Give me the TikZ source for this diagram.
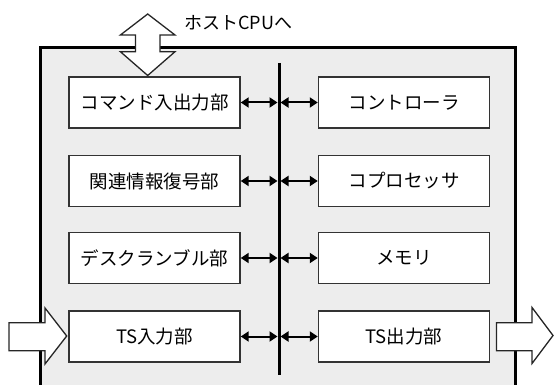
\documentclass[tikz,border=0pt]{standalone}
\usepackage{fontspec}
\setmainfont{Noto Sans CJK JP}
\usetikzlibrary{arrows.meta}
\begin{document}
\begin{tikzpicture}[x=1pt,y=-1pt,
  unitbox/.style={draw=black!80,line width=1.4pt,fill=white,minimum width=171pt,minimum height=51pt,inner sep=0pt,font=\fontsize{18.5}{20}\selectfont},
  bigarrow/.style={draw=black!85,line width=1.3pt,fill=white,line join=miter},
  dbl/.style={line width=2pt,{Triangle[length=8pt,width=10pt]}-{Triangle[length=8pt,width=10pt]}}
]
\useasboundingbox (0,0) rectangle (554,385);
% outer frame
\fill[black!7] (40,47.5) rectangle (515,395);
\draw[line width=3pt] (40,395) -- (40,47.5) -- (515,47.5) -- (515,395);
% bus
\coordinate (bustop) at (279,63);
\coordinate (busbot) at (279,375);
\draw[line width=3pt] (bustop) -- (busbot);
% boxes
\node[unitbox] (cmd) at (154.5,102.5) {コマンド入出力部};
\node[unitbox] (rel) at (154.5,181) {関連情報復号部};
\node[unitbox] (des) at (154.5,258) {デスクランブル部};
\node[unitbox] (tsin) at (154.5,336.5) {TS入力部};
\node[unitbox] (ctl) at (404,102.5) {コントローラ};
\node[unitbox] (cop) at (404,181) {コプロセッサ};
\node[unitbox] (mem) at (404,258) {メモリ};
\node[unitbox] (tsout) at (404,336.5) {TS出力部};
% bus taps
\foreach \n/\m/\y in {cmd/ctl/102.5,rel/cop/181,des/mem/258,tsin/tsout/336.5}{
  \coordinate (l\n) at (277.5,\y);
  \coordinate (r\n) at (280.5,\y);
  \draw[dbl] (\n.east) -- (l\n);
  \draw[dbl] (r\n) -- (\m.west);
}
% big arrows
\draw[bigarrow] (147.7,14) -- (175,35) -- (160,35) -- (160,51.7) -- (175,51.7) -- (147.7,75.5)
  -- (120.4,51.7) -- (135.4,51.7) -- (135.4,35) -- (120.4,35) -- cycle;
\draw[bigarrow] (9,322.7) -- (45,322.7) -- (45,308) -- (66.7,336) -- (45,364) -- (45,350.7) -- (9,350.7) -- cycle;
\draw[bigarrow] (496.5,322.7) -- (532,322.7) -- (532,307.5) -- (553,335.5) -- (532,363.5) -- (532,350.7) -- (496.5,350.7) -- cycle;
\node[anchor=west,inner sep=0pt,font=\fontsize{18}{20}\selectfont] (host) at (184,22.5) {ホストCPUへ};
\end{tikzpicture}
\end{document}
